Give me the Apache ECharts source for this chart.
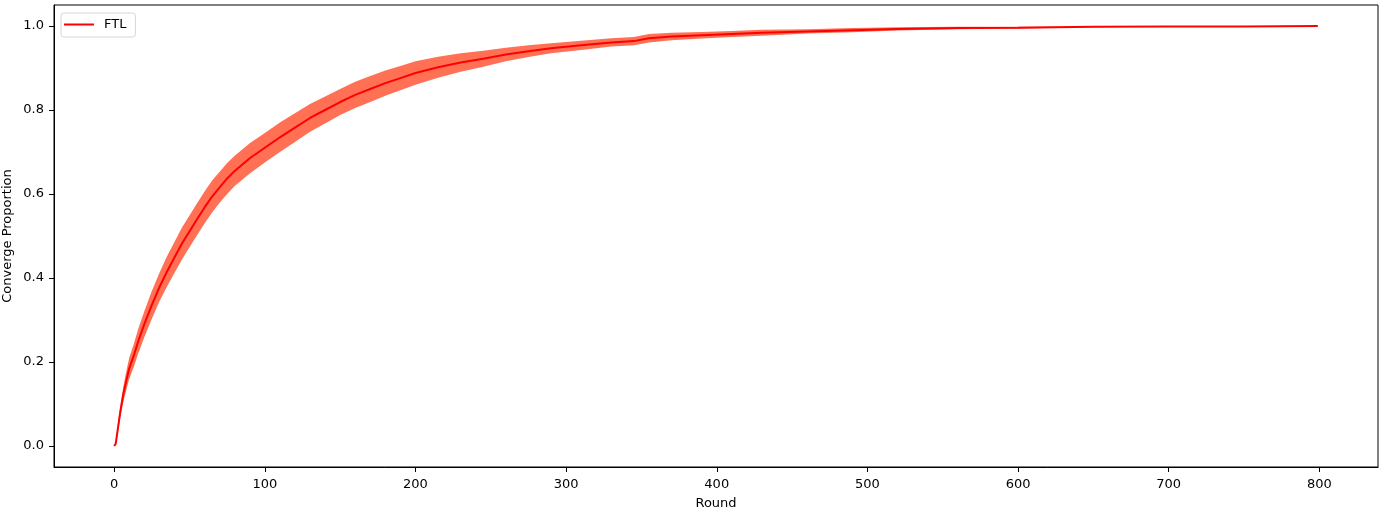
<!DOCTYPE html>
<html>
<head>
<meta charset="utf-8">
<title>FTL converge proportion</title>
<script src="https://cdn.jsdelivr.net/npm/echarts@6/dist/echarts.min.js"></script>
<style>
	html, body { margin: 0; padding: 0; background: #fff; }
	#chart { width: 1381px; height: 513px; }
</style>
</head>
<body>
<div id="chart"></div>
<script>
var rounds = [0, 1, 2, 4, 6, 8, 10, 13, 16, 20, 25, 30, 35, 40, 45, 50, 55, 60, 65, 70, 75, 80, 90,
	100, 110, 120, 130, 140, 150, 160, 170, 180, 190, 200, 215, 230, 245, 260, 275, 290, 310, 330,
	345, 355, 370, 390, 410, 430, 460, 490, 520, 560, 600, 650, 700, 750, 799]

// mean proportion (red line)
var meanVals = [0, 0.005, 0.03, 0.08, 0.122, 0.155, 0.185, 0.215, 0.25, 0.29, 0.336, 0.378, 0.415,
	0.449, 0.482, 0.511, 0.54, 0.568, 0.594, 0.616, 0.637, 0.655, 0.685, 0.71, 0.735, 0.758, 0.781,
	0.8, 0.819, 0.836, 0.85, 0.864, 0.876, 0.888, 0.902, 0.913, 0.922, 0.932, 0.94, 0.947, 0.954,
	0.961, 0.964, 0.971, 0.975, 0.978, 0.981, 0.984, 0.987, 0.99, 0.993, 0.995, 0.996, 0.998, 0.999,
	0.999, 1.0]

// shaded band, lower and upper edge
var lowerVals = [0, 0.005, 0.022, 0.066, 0.104, 0.133, 0.16, 0.188, 0.221, 0.259, 0.303, 0.344,
	0.379, 0.412, 0.444, 0.473, 0.502, 0.53, 0.556, 0.579, 0.6, 0.619, 0.649, 0.675, 0.7, 0.724,
	0.748, 0.768, 0.788, 0.805, 0.819, 0.834, 0.847, 0.86, 0.877, 0.891, 0.903, 0.916, 0.926, 0.935,
	0.943, 0.951, 0.954, 0.961, 0.966, 0.97, 0.974, 0.977, 0.982, 0.985, 0.989, 0.992, 0.994, 0.997,
	0.9985, 0.999, 1.0]
var upperVals = [0, 0.005, 0.038, 0.094, 0.14, 0.177, 0.21, 0.242, 0.279, 0.321, 0.369, 0.412,
	0.451, 0.486, 0.52, 0.549, 0.578, 0.606, 0.632, 0.653, 0.674, 0.691, 0.721, 0.745, 0.77, 0.792,
	0.814, 0.832, 0.85, 0.867, 0.881, 0.894, 0.905, 0.916, 0.927, 0.935, 0.941, 0.948, 0.954, 0.959,
	0.965, 0.971, 0.974, 0.981, 0.984, 0.986, 0.988, 0.991, 0.992, 0.995, 0.997, 0.998, 0.998, 0.999,
	0.9995, 0.999, 1.0]

var xTicks = [0, 100, 200, 300, 400, 500, 600, 700, 800]
var yTicks = [0, 0.2, 0.4, 0.6, 0.8, 1.0]

var font = 'DejaVu Sans'
var chart = echarts.init(document.getElementById('chart'))

chart.setOption({
	animation: false,
	textStyle: { fontFamily: font },
	grid: {
		left: 54,
		right: 3,
		top: 5,
		bottom: 46,
		outerBoundsMode: 'none',
		containLabel: false,
		show: true,
		borderColor: '#000',
		borderWidth: 1,
		backgroundColor: 'transparent',
	},
	legend: {
		left: 61,
		top: 13,
		orient: 'vertical',
		padding: [5, 9, 6, 3],
		borderColor: '#d6d6d6',
		borderWidth: 1,
		borderRadius: 3,
		itemWidth: 30,
		itemHeight: 2,
		data: [{ name: 'FTL', icon: 'rect' }],
		textStyle: { fontFamily: font, fontSize: 13, color: '#000', padding: [0, 0, 0, 5] },
	},
	xAxis: {
		type: 'value',
		min: -39.95,
		max: 838.95,
		name: 'Round',
		nameLocation: 'middle',
		nameGap: 30,
		nameMoveOverlap: false,
		nameTextStyle: { fontFamily: font, fontSize: 13, color: '#000' },
		splitLine: { show: false },
		axisLine: { show: true, onZero: false, lineStyle: { color: '#000', width: 1 } },
		axisTick: { show: true, length: 5, lineStyle: { color: '#000' }, customValues: xTicks },
		axisLabel: { fontFamily: font, fontSize: 13, color: '#000', margin: 11, customValues: xTicks },
	},
	yAxis: {
		type: 'value',
		min: -0.05,
		max: 1.05,
		name: 'Converge Proportion',
		nameLocation: 'middle',
		nameGap: 40,
		nameMoveOverlap: false,
		nameTextStyle: { fontFamily: font, fontSize: 13, color: '#000' },
		splitLine: { show: false },
		axisLine: { show: true, onZero: false, lineStyle: { color: '#000', width: 1 } },
		axisTick: { show: true, length: 5, lineStyle: { color: '#000' }, customValues: yTicks },
		axisLabel: {
			fontFamily: font,
			fontSize: 13,
			color: '#000',
			margin: 10,
			customValues: yTicks,
			formatter: function (v) { return v.toFixed(1) },
		},
	},
	series: [
		{
			// band drawn as one polygon through the axis scales
			type: 'custom',
			name: 'band',
			silent: true,
			z: 1,
			data: [[0, 0]],
			renderItem: function (params, api) {
				var pts = []
				for (var i = 0; i < rounds.length; i++) pts.push(api.coord([rounds[i], upperVals[i]]))
				for (var j = rounds.length - 1; j >= 0; j--) pts.push(api.coord([rounds[j], lowerVals[j]]))
				return { type: 'polygon', shape: { points: pts }, style: { fill: '#ff7055' } }
			},
		},
		{
			type: 'line',
			name: 'FTL',
			z: 3,
			showSymbol: false,
			color: '#ff0000',
			lineStyle: { color: '#ff0000', width: 2 },
			data: rounds.map(function (r, i) { return [r, meanVals[i]] }),
		},
	],
})
</script>
</body>
</html>
